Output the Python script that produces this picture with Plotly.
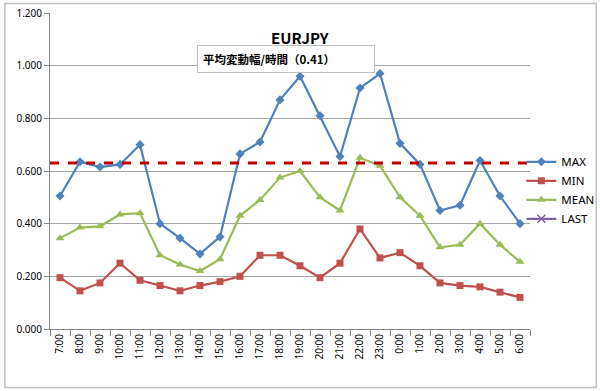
import plotly.graph_objects as go

hours = ["7:00","8:00","9:00","10:00","11:00","12:00","13:00","14:00","15:00","16:00","17:00","18:00",
         "19:00","20:00","21:00","22:00","23:00","0:00","1:00","2:00","3:00","4:00","5:00","6:00"]
max_vals = [0.505,0.635,0.615,0.625,0.700,0.400,0.345,0.285,0.350,0.665,0.710,0.870,
            0.960,0.810,0.655,0.915,0.970,0.705,0.625,0.450,0.470,0.640,0.505,0.400]
min_vals = [0.195,0.145,0.175,0.250,0.185,0.165,0.145,0.165,0.180,0.200,0.280,0.280,
            0.240,0.195,0.250,0.380,0.270,0.290,0.240,0.175,0.165,0.160,0.140,0.120]
mean_vals = [0.345,0.385,0.390,0.435,0.440,0.280,0.245,0.220,0.265,0.430,0.490,0.575,
             0.600,0.500,0.450,0.650,0.620,0.500,0.430,0.310,0.320,0.400,0.320,0.255]
last_vals = [None]*len(hours)
avg_line = 0.630
y_ticks = [0, 0.2, 0.4, 0.6, 0.8, 1.0, 1.2]

fig = go.Figure()
fig.add_trace(go.Scatter(x=hours, y=max_vals, name="MAX", mode="lines+markers",
                         line=dict(color="#4F81BD", width=2.2),
                         marker=dict(symbol="diamond", size=7, color="#4F81BD")))
fig.add_trace(go.Scatter(x=hours, y=min_vals, name="MIN", mode="lines+markers",
                         line=dict(color="#C0504D", width=2.2),
                         marker=dict(symbol="square", size=7, color="#C0504D")))
fig.add_trace(go.Scatter(x=hours, y=mean_vals, name="MEAN", mode="lines+markers",
                         line=dict(color="#9BBB59", width=2.2),
                         marker=dict(symbol="triangle-up", size=8, color="#9BBB59")))
fig.add_trace(go.Scatter(x=hours, y=last_vals, name="LAST", mode="lines+markers",
                         line=dict(color="#8064A2", width=2.2),
                         marker=dict(symbol="x-thin", size=8, line=dict(color="#8064A2", width=1.5))))

fig.add_shape(type="line", xref="paper", yref="y", x0=0, x1=0.995, y0=avg_line, y1=avg_line,
              line=dict(color="#C00000", width=3, dash="dash"))

# outer chart frame
fig.add_shape(type="rect", xref="paper", yref="paper", x0=-0.094, x1=1.138, y0=-0.185, y1=1.03,
              line=dict(color="#BFBFBF", width=1.5), layer="below")

fig.add_annotation(text="<b>EURJPY</b>", xref="paper", yref="paper", x=0.521, y=0.924,
                   xanchor="center", yanchor="middle",
                   showarrow=False, font=dict(size=15, color="#000000", family="Noto Sans CJK JP"))
fig.add_annotation(text="<b>平均変動幅/時間（0.41）</b>", xref="paper", yref="paper", x=0.492, y=0.856,
                   xanchor="center", yanchor="middle",
                   showarrow=False, font=dict(size=11.5, color="#000000", family="Noto Sans CJK JP"),
                   bordercolor="#BFBFBF", borderwidth=1, borderpad=5, bgcolor="white",
                   width=166, align="left")

fig.update_layout(
    width=600, height=391,
    margin=dict(l=50, r=70, t=13, b=62, autoexpand=False),
    paper_bgcolor="white", plot_bgcolor="white",
    font=dict(family="Noto Sans", size=11, color="#000000"),
    showlegend=True,
    legend=dict(x=0.982, y=0.575, xanchor="left", yanchor="top", bgcolor="rgba(0,0,0,0)",
                font=dict(size=11.5), tracegroupgap=0, itemsizing="trace", itemwidth=30),
    xaxis=dict(type="category", categoryorder="array", categoryarray=hours,
               tickangle=-90, tickfont=dict(size=10), showgrid=False, automargin=False,
               showline=True, linecolor="#868686", linewidth=1,
               ticks="outside", ticklen=6, tickcolor="#868686", tickson="boundaries",
               range=[-0.5, 23.5]),
    yaxis=dict(range=[0, 1.2], tickvals=y_ticks, tickformat=".3f", automargin=False,
               showgrid=True, gridcolor="#A6A6A6", gridwidth=1,
               showline=True, linecolor="#868686", linewidth=1,
               ticks="outside", ticklen=5, tickcolor="#868686",
               tickfont=dict(size=10), zeroline=False),
)

fig.write_html("out.html", config={"displayModeBar": False},
               post_script="document.body.style.margin='0px';document.body.style.overflow='hidden';")
